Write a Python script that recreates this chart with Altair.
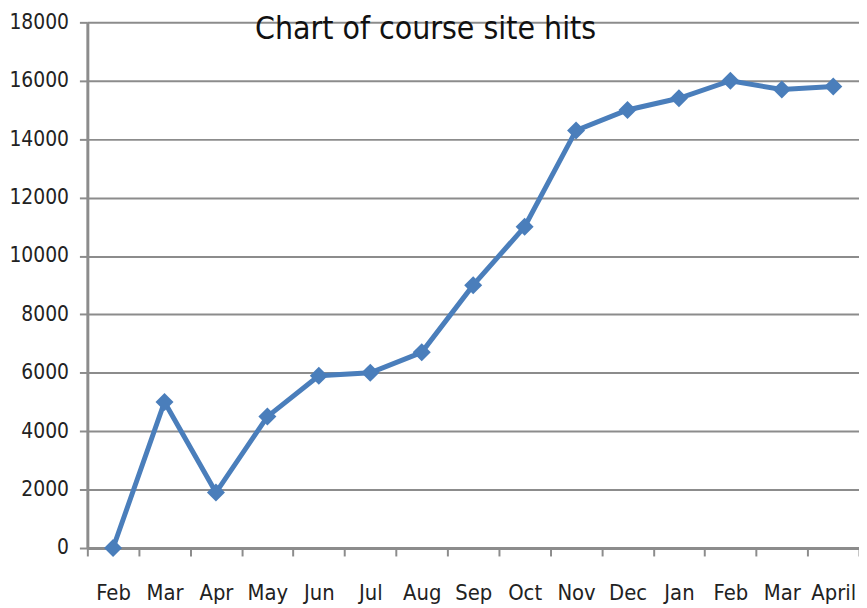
import json
import altair as alt
import pandas as pd

months = ["Feb", "Mar", "Apr", "May", "Jun", "Jul", "Aug", "Sep", "Oct",
          "Nov", "Dec", "Jan", "Feb", "Mar", "April"]
hits = [0, 5000, 1900, 4500, 5900, 6000, 6700, 9000, 11000,
        14300, 15000, 15400, 16000, 15700, 15800]

df = pd.DataFrame({"idx": list(range(len(months))), "month": months, "hits": hits})

FONT = "Liberation Sans Narrow, DejaVu Sans Condensed, Open Sans, sans-serif"
label_expr = json.dumps(months) + "[datum.value]"

base = alt.Chart(df).encode(
    x=alt.X("idx:O", title=None,
            scale=alt.Scale(type="band", paddingInner=0, paddingOuter=0),
            axis=alt.Axis(labelExpr=label_expr, labelAngle=0, tickBand="extent",
                          labelFont=FONT, labelFontSize=22, labelColor="#222222",
                          labelPadding=27, tickSize=8, tickColor="#8c8c8c",
                          tickWidth=2, domainColor="#8c8c8c", domainWidth=3,
                          grid=False)),
    y=alt.Y("hits:Q", title=None,
            scale=alt.Scale(domain=[0, 18000], nice=False),
            axis=alt.Axis(values=list(range(0, 18001, 2000)), format="d",
                          labelFont=FONT, labelFontSize=21, labelColor="#222222",
                          labelPadding=11, tickSize=8, tickColor="#8c8c8c",
                          tickWidth=2, domainColor="#8c8c8c", domainWidth=3,
                          grid=True, gridColor="#8c8c8c", gridWidth=2)),
)

line = base.mark_line(color="#4A7EBB", strokeWidth=5)
pts = base.mark_point(shape="diamond", filled=True, size=330, color="#4A7EBB", opacity=1)

chart = (line + pts).properties(
    width=778, height=530,
    title=alt.TitleParams("Chart of course site hits", font=FONT, fontSize=32,
                          fontWeight="normal", color="#111111", anchor="start",
                          frame="group", dx=169, dy=64, baseline="alphabetic"),
    autosize=alt.AutoSizeParams(type="none"),
    padding={"left": 80, "top": 12, "right": 0, "bottom": 58},
).configure_view(stroke=None)

chart.save("out.html", embed_options={"renderer": "svg", "actions": False})
